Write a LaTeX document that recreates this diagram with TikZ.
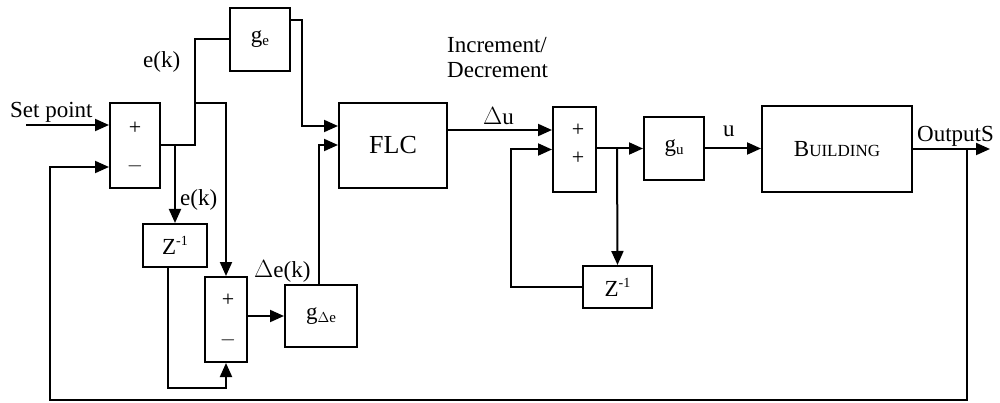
\documentclass[tikz,border=0pt]{standalone}
\usepackage{fontspec}
\setmainfont{Liberation Serif}
\usetikzlibrary{arrows.meta,calc}
\newcommand{\subtx}[1]{\raisebox{-3pt}{\fontsize{15}{15}\selectfont #1}}
\newcommand{\suptx}[1]{\raisebox{9pt}{\fontsize{14}{14}\selectfont #1}}
\begin{document}
\begin{tikzpicture}[x=1pt,y=-1pt,
  every node/.style={font=\fontsize{23}{26}\selectfont, inner sep=0pt},
  blk/.style={draw, line width=2pt, rectangle},
  wire/.style={line width=2pt},
  arr/.style={line width=2pt, -{Triangle[length=14pt,width=12pt]}},
  lbl/.style={anchor=base west},
  sgn/.style={font=\fontsize{22}{24}\selectfont}]
\useasboundingbox (0,0) rectangle (1000,403);
% blocks
\node[blk, minimum width=50pt, minimum height=85pt] (s1) at (135,145.5) {};
\node[blk, minimum width=60pt, minimum height=63pt] (ge) at (260,39.5) {g\subtx{e}};
\node[blk, minimum width=108pt, minimum height=85pt] (flc) at (393,145.5) {\fontsize{26}{28}\selectfont FLC};
\node[blk, minimum width=64pt, minimum height=43pt] (z1) at (175,245.5) {Z\suptx{-1}};
\node[blk, minimum width=42pt, minimum height=85pt] (s2) at (226,319.5) {};
\node[blk, minimum width=72pt, minimum height=62pt] (gde) at (321,316) {g\subtx{$\Delta$e}};
\node[blk, minimum width=43pt, minimum height=85pt] (s3) at (574.5,149.5) {};
\node[blk, minimum width=69pt, minimum height=42pt] (z2) at (617.5,287) {Z\suptx{-1}};
\node[blk, minimum width=60pt, minimum height=63pt] (gu) at (674,148.5) {g\subtx{u}};
\node[blk, minimum width=150pt, minimum height=86pt] (bld) at (837,149) {B{\fontsize{17}{19}\selectfont UILDING}};
% signs
\node[sgn] (p1) at (135,128) {+};
\node[sgn] (m1) at (135,166) {$-$};
\node[sgn] (p2) at (228,300) {+};
\node[sgn] (m2) at (228,340) {$-$};
\node[sgn] (p3) at (578,130) {+};
\node[sgn] (p4) at (578,158) {+};
% coordinates
\coordinate (sp) at (26,125);
\coordinate (j1) at (195,145.5);
\coordinate (j2) at (195,103);
\coordinate (j3) at (226,103);
\coordinate (j4) at (175,145.5);
\coordinate (geo) at (290,20);
\coordinate (j5) at (302,20);
\coordinate (j6) at (302,126);
\coordinate (z1o) at (168,267);
\coordinate (j7) at (168,388);
\coordinate (j8) at (226,388);
\coordinate (j9) at (319,145);
\coordinate (j9b) at (319,285);
\coordinate (j10) at (617,148.5);
\coordinate (j11) at (511,287);
\coordinate (j12) at (511,149.5);
\coordinate (out) at (990,149);
\coordinate (j13) at (967,149);
\coordinate (j14) at (967,400);
\coordinate (j15) at (50,400);
\coordinate (j16) at (50,167);
% connectors
\draw[arr] (sp) -- (sp -| s1.west);
\draw[wire] (s1.east) -- (j1) -- (j2) |- (ge.west);
\draw[arr] (j2) -- (j3) -- (s2.north);
\draw[arr] (j4) -- (j4 |- z1.north);
\draw[arr] (geo) -- (j5) -- (j6) -- (j6 -| flc.west);
\draw[arr] (z1o) -- (j7) -- (j8) -- (s2.south);
\draw[arr] (s2.east |- gde.west) -- (gde.west);
\draw[arr] (j9b) -- (j9) -- (j9 -| flc.west);
\draw[arr] (flc.east |- 0,130) -- (s3.west |- 0,130);
\draw[arr] (s3.east |- gu.west) -- (gu.west);
\draw[arr] (j10) -- (z2.north);
\draw[arr] (z2.west) -- (j11) -- (j12) -- (s3.west);
\draw[arr] (gu.east) -- (gu.east -| bld.west);
\draw[arr] (bld.east) -- (out);
\draw[arr] (j13) -- (j14) -- (j15) -- (j16) -- (j16 -| s1.west);
% labels
\node[lbl] (tsp) at (10,118) {Set point};
\node[lbl] (tek1) at (143,68) {e(k)};
\node[lbl] (tek2) at (180,206) {e(k)};
\node[lbl] (tdek) at (254,277) {$\Delta$e(k)};
\node[lbl] (tinc) at (447,53) {Increment/};
\node[lbl] (tdec) at (447,78) {Decrement};
\node[lbl] (tdu) at (483,125) {$\Delta$u};
\node[lbl] (tu) at (723,137) {u};
\node[lbl] (tout) at (917,142) {OutputS};
\end{tikzpicture}
\end{document}
